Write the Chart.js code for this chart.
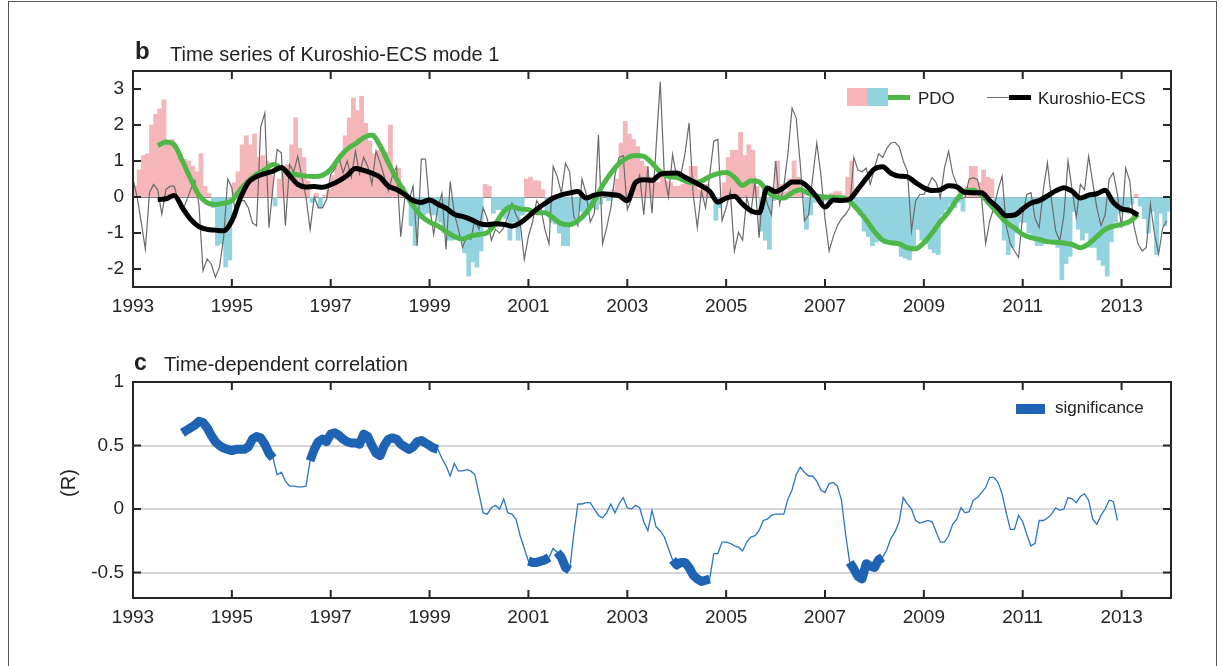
<!DOCTYPE html>
<html>
<head>
<meta charset="utf-8">
<script src="https://cdn.jsdelivr.net/npm/chart.js@4.4.1/dist/chart.umd.min.js"></script>
<style>
  body { margin: 0; background: #fff; font-family: "Liberation Sans", Arial, sans-serif; color: #222; }
  #page { position: relative; width: 1223px; height: 666px; overflow: hidden; }
  .frame { position: absolute; left: 8px; top: 1px; width: 1207px; height: 720px; border: 1px solid #555; }
  .box { position: absolute; left: 0; width: 1223px; }
  .txt { position: absolute; white-space: nowrap; line-height: 1; z-index: 2; }
  .sw { position: absolute; z-index: 2; }
</style>
</head>
<body>
<div id="page">
  <div class="frame"></div>
  <div class="box" style="top:0;height:320px"><canvas id="topChart"></canvas></div>
  <div class="box" style="top:320px;height:346px"><canvas id="corrChart"></canvas></div>

  <!-- titres -->
  <div class="txt" style="left:135px;top:39px;font-size:24px;font-weight:bold">b</div>
  <div class="txt" style="left:170px;top:43.5px;font-size:20px">Time series of Kuroshio-ECS mode 1</div>
  <div class="txt" style="left:134px;top:351px;font-size:23px;font-weight:bold">c</div>
  <div class="txt" style="left:164px;top:354px;font-size:20px">Time-dependent correlation</div>
  <div class="txt" style="left:53px;top:473px;font-size:20px;width:30px;text-align:center;transform:rotate(-90deg)">(R)</div>

  <!-- légende du haut -->
  <div class="sw" style="left:847px;top:88px;width:20px;height:18px;background:#f5b6ba"></div>
  <div class="sw" style="left:867px;top:88px;width:21px;height:18px;background:#93d3df"></div>
  <div class="sw" style="left:888px;top:95px;width:22px;height:5px;background:#4db848"></div>
  <div class="txt" style="left:918px;top:89.5px;font-size:17px">PDO</div>
  <div class="sw" style="left:987px;top:97px;width:23px;height:1px;background:#707070"></div>
  <div class="sw" style="left:1009px;top:95px;width:22px;height:5px;background:#000"></div>
  <div class="txt" style="left:1038px;top:89.5px;font-size:17px">Kuroshio-ECS</div>

  <!-- légende du bas -->
  <div class="sw" style="left:1016px;top:404px;width:29px;height:10px;background:#1f64b4"></div>
  <div class="txt" style="left:1055px;top:399px;font-size:17px">significance</div>
</div>

<script>
// Données (mensuelles, à partir de janvier 1993)
const FIRST_YEAR = 1993;

// Indice PDO mensuel (barres)
const pdo = [
  0.3, 0.75, 1.15, 1.2, 2.0, 2.3, 2.45, 2.7, 1.5, 1.6, 1.3, 1.2,          // 1993
  1.05, 1.0, 0.85, 0.7, 1.2, 0.3, 0.1, -0.3, -1.35, -1.3, -1.95, -1.75,   // 1994
  0.4, 0.7, 1.45, 1.7, 1.45, 1.75, 1.1, 1.15, 1.0, 0.6, -0.25, 0.5,       // 1995
  0.85, 0.9, 1.45, 2.2, 1.35, 1.1, 0.45, -0.15, 0.1, -0.3, 0.05, 0.2,     // 1996
  0.6, 0.9, 1.2, 1.7, 2.2, 2.75, 2.4, 2.8, 2.05, 1.55, 1.2, 1.3,          // 1997
  1.2, 1.25, 2.0, 0.7, 0.8, 0.3, 0.05, -0.8, -1.35, -0.6, -0.5, -0.45,    // 1998
  -0.5, -0.5, -0.7, -1.0, -1.2, -1.2, -1.15, -1.2, -1.55, -2.2, -1.8, -1.95, // 1999
  -1.5, 0.35, 0.3, -0.45, -0.35, -0.35, -0.6, -1.2, -0.7, -1.2, -0.5, 0.5,  // 2000
  0.55, 0.45, 0.45, 0.2, -0.45, -0.7, -0.75, -1.0, -1.35, -1.35, -0.8, -0.6, // 2001
  -0.4, -0.5, -0.35, -0.3, -0.35, -0.2, 0.1, -0.1, 0.2, 0.5, 1.5, 2.1,    // 2002
  1.75, 1.6, 1.4, 1.0, 0.85, 0.55, 0.55, 0.4, 0.55, 0.45, 0.4, 0.3,       // 2003
  0.3, 0.35, 0.4, 0.85, 0.85, 0.2, 0.25, 0.35, 0.1, -0.65, -0.3, 0.4,     // 2004
  1.1, 1.3, 1.3, 1.8, 1.15, 1.45, 1.3, 0.3, -0.95, -1.2, -1.45, -0.1,     // 2005
  1.0, 0.35, 0.15, 0.5, 1.0, 0.55, 0.15, -0.9, -0.5, -0.15, -0.15, -0.1,  // 2006
  -0.1, 0.1, 0.15, 0.15, 0.05, 0.55, 1.0, -0.35, -0.5, -0.95, -1.1, -1.35, // 2007
  -1.25, -1.2, -1.3, -1.3, -1.28, -1.3, -1.65, -1.7, -1.75, -1.4, -0.9, -1.2, // 2008
  -1.3, -1.45, -1.55, -1.6, -0.5, -0.35, -0.2, -0.3, -0.15, -0.4, 0.3, 0.85, // 2009
  0.85, 0.4, 0.75, 0.55, 0.5, -0.2, -0.35, -1.2, -1.6, -1.4, -1.0, -0.7,  // 2010
  -0.7, -1.0, -1.15, -1.35, -1.35, -1.3, -1.25, -1.3, -1.4, -2.3, -1.85, -1.65, // 2011
  -0.4, -0.9, -1.2, -1.0, -1.4, -1.4, -1.75, -1.9, -2.2, -1.25, -0.7, -0.45, // 2012
  -0.35, -0.45, -0.2, 0.08, -0.25, -0.6, -1.0, -0.4, -1.6, -0.45, -0.8, -0.4 // 2013
];

// Mode 1 Kuroshio-ECS mensuel (ligne fine grise)
const kuroshio = [
  0.5, 0.0, -0.7, -1.45, 0.12, 0.35, 0.2, -0.48, 0.21, 0.3, 0.3, -0.1,    // 1993
  -0.4, -0.1, 0.2, 0.45, -0.2, -2.05, -1.72, -1.86, -2.23, -1.95, -1.13, 0.5, // 1994
  0.26, -0.55, -0.1, -0.1, -0.3, -0.72, -0.8, 1.95, 2.33, -0.85, 0.3, 1.32, // 1995
  1.23, -0.8, 0.9, 0.7, 1.13, 0.55, 0.0, -0.9, 0.0, -0.3, -0.3, -0.07,    // 1996
  0.63, 0.77, 1.1, 0.67, 1.0, 0.55, 1.27, 0.65, 1.1, 0.85, 0.35, 1.27,    // 1997
  0.95, 0.57, 0.16, 0.6, 0.85, -1.1, 0.0, -0.1, 0.3, -1.35, 1.05, 1.05,   // 1998
  -0.26, -1.04, -0.3, 0.1, -1.46, 0.43, -0.45, -0.9, -1.4, -1.1, -1.18, -0.63, // 1999
  -0.9, -0.3, -0.6, -1.2, -0.9, -1.0, -0.85, -0.55, -0.17, -0.5, -0.72, -1.74, // 2000
  -1.09, -0.7, -0.1, -0.3, -0.9, -1.3, 0.85, 0.57, 0.1, 0.94, 0.7, -0.54, // 2001
  -0.8, 0.5, 0.1, -0.7, -0.45, 1.73, -1.3, -0.85, -0.3, 0.6, 1.1, 1.15,   // 2002
  -0.35, -0.07, 0.3, 0.6, -0.49, 0.85, -0.45, 1.4, 3.2, 0.6, 0.0, 1.18,   // 2003
  0.53, 0.63, 1.2, 2.06, 0.07, -0.85, 0.17, -0.3, 0.6, 1.55, 1.6, -0.66,  // 2004
  -0.3, 0.17, -1.5, -0.98, -1.2, -0.02, -0.45, 0.44, -1.13, 0.3, -0.2, -0.5, // 2005
  1.0, -0.2, 0.3, 1.2, 2.47, 2.2, 0.9, -0.66, -0.5, 0.54, 1.5, 0.63,      // 2006
  -0.6, -1.5, -1.1, -0.8, -0.6, -0.48, -0.3, 1.1, 0.75, 0.7, 0.8, 0.35,   // 2007
  0.8, 1.2, 1.1, 1.35, 1.5, 1.52, 1.4, 1.0, 0.72, -0.95, -0.11, 0.07,     // 2008
  0.07, 0.3, 0.54, 0.4, -0.02, 0.8, 1.27, 0.65, 0.35, -0.05, 0.0, 0.5,    // 2009
  0.53, 0.49, 0.0, -1.3, -0.66, -0.3, 0.2, 0.58, -0.8, -1.3, -1.5, -1.68, // 2010
  -0.5, 0.07, 0.12, -0.6, -0.85, 0.2, 0.95, -0.1, -0.94, -1.22, -0.5, 1.0, // 2011
  0.2, -0.57, 0.35, 0.2, 1.13, 0.4, -0.3, -0.8, -0.5, 0.5, 0.67, 0.07,    // 2012
  -0.85, 0.8, 0.44, -0.8, -1.3, -1.5, -1.4, -0.2, -1.03, -1.58, -0.85, -0.66 // 2013
];

// Courbes lissées : une valeur tous les deux mois à partir de juillet 1993
const SMOOTH_START = 1993.5;
const pdoSmooth = [
  1.43, 1.53, 1.45,
  1.0, 0.5, 0.05, -0.16, -0.21, -0.17,
  -0.1, 0.2, 0.44, 0.63, 0.76, 0.9,
  0.8, 0.66, 0.62, 0.58, 0.57, 0.6,
  0.77, 1.08, 1.33, 1.48, 1.65, 1.72,
  1.42, 0.95, 0.5, 0.13, -0.24, -0.53,
  -0.7, -0.8, -0.96, -1.1, -1.17, -1.08,
  -1.04, -0.99, -0.75, -0.4, -0.27, -0.33,
  -0.35, -0.44, -0.44, -0.58, -0.74, -0.77,
  -0.66, -0.44, -0.1, 0.32, 0.66, 0.93,
  1.09, 1.15, 1.13, 0.94, 0.7, 0.57,
  0.55, 0.45, 0.39, 0.44, 0.57, 0.65,
  0.68, 0.55, 0.32, 0.45, 0.42, 0.15,
  0.0, -0.03, 0.12, 0.2, 0.1, 0.02,
  0.0, -0.01, -0.02, -0.12, -0.36, -0.64,
  -0.96, -1.2, -1.27, -1.3, -1.41, -1.44,
  -1.27, -1.0, -0.68, -0.42, -0.07, 0.16,
  0.19, 0.05, -0.2, -0.46, -0.7, -0.86,
  -1.04, -1.13, -1.18, -1.24, -1.26, -1.28,
  -1.32, -1.41, -1.3, -1.1, -0.9, -0.81,
  -0.76, -0.68, -0.48
];
const kuroSmooth = [
  -0.07, -0.05, 0.04,
  -0.3, -0.62, -0.82, -0.9, -0.92, -0.94,
  -0.66, -0.05, 0.4, 0.57, 0.65, 0.72,
  0.82, 0.6, 0.35, 0.28, 0.29, 0.27,
  0.34, 0.45, 0.6, 0.79, 0.74, 0.66,
  0.55, 0.3, 0.21, 0.07, -0.1, -0.15,
  -0.08, -0.2, -0.31, -0.48, -0.54, -0.62,
  -0.73, -0.77, -0.74, -0.76, -0.81, -0.72,
  -0.54, -0.34, -0.18, -0.03, 0.06, 0.11,
  0.15, -0.03, 0.05, 0.09, 0.07, 0.04,
  -0.1, 0.4, 0.48, 0.46, 0.63, 0.66,
  0.67, 0.55, 0.43, 0.31, 0.16, -0.14,
  -0.03, 0.02, -0.2, -0.38, -0.44, 0.25,
  0.15, 0.26, 0.42, 0.42, 0.26, 0.0,
  -0.28, -0.08, -0.1, -0.06, 0.22, 0.51,
  0.78, 0.84, 0.66, 0.58, 0.56, 0.4,
  0.26, 0.18, 0.2, 0.31, 0.28, 0.13,
  0.12, 0.12, -0.1, -0.3, -0.52, -0.5,
  -0.33, -0.17, -0.1, 0.03, 0.17, 0.26,
  0.16, -0.03, 0.05, 0.09, 0.19, -0.15,
  -0.33, -0.37, -0.5
];

// Corrélation glissante (R), mensuelle à partir de janvier 1994
const CORR_START = 1994;
const corrR = [
  0.6, 0.62, 0.64, 0.66, 0.69, 0.68, 0.64, 0.58, 0.53, 0.5, 0.48, 0.47,
  0.46, 0.47, 0.47, 0.47, 0.49, 0.55, 0.57, 0.56, 0.51, 0.44, 0.4, 0.27,
  0.29, 0.22, 0.18, 0.18, 0.175, 0.175, 0.18, 0.38, 0.47, 0.53, 0.55, 0.53,
  0.59, 0.6, 0.58, 0.55, 0.53, 0.52, 0.52, 0.51, 0.59, 0.57, 0.5, 0.44,
  0.42, 0.5, 0.55, 0.56, 0.55, 0.51, 0.49, 0.47, 0.49, 0.53, 0.54, 0.52,
  0.5, 0.48, 0.47, 0.4, 0.34, 0.26, 0.36, 0.3, 0.3, 0.31, 0.3, 0.27,
  0.12, -0.03, -0.04, 0.01, 0.03, 0.0, 0.08, -0.03, -0.04, -0.08, -0.21, -0.31,
  -0.41, -0.42, -0.42, -0.41, -0.4, -0.38, -0.31, -0.34, -0.38, -0.46, -0.48, -0.2,
  0.04, 0.04, 0.05, 0.05, 0.0, -0.05, -0.07, -0.03, 0.04, -0.03, 0.04, 0.09,
  0.01, 0.0, 0.03, 0.01, -0.1, -0.17, -0.01, -0.14, -0.17, -0.22, -0.31, -0.4,
  -0.44, -0.42, -0.42, -0.46, -0.52, -0.55, -0.57, -0.56, -0.55, -0.35, -0.35, -0.26,
  -0.26, -0.27, -0.29, -0.3, -0.33, -0.26, -0.22, -0.21, -0.17, -0.09, -0.08, -0.05,
  -0.04, -0.04, -0.04, 0.08, 0.15, 0.27, 0.33, 0.29, 0.26, 0.26, 0.22, 0.15,
  0.13, 0.2, 0.21, 0.18, 0.07, -0.2, -0.42, -0.47, -0.53, -0.55, -0.43, -0.45,
  -0.46, -0.4, -0.38, -0.32, -0.23, -0.18, -0.1, 0.09, 0.04, 0.0, -0.09, -0.11,
  -0.1, -0.09, -0.1, -0.18, -0.26, -0.26, -0.21, -0.12, -0.08, 0.01, -0.03, -0.02,
  0.07, 0.09, 0.13, 0.17, 0.25, 0.25, 0.21, 0.12, -0.03, -0.16, -0.16, -0.05,
  -0.1, -0.2, -0.29, -0.27, -0.09, -0.09, -0.07, -0.04, 0.01, -0.01, 0.0, 0.09,
  0.08, 0.05, 0.1, 0.12, 0.07, -0.08, -0.12, -0.05, 0.0, 0.07, 0.06, -0.09
];

// Périodes significatives (début, fin) en années décimales
const sigPeriods = [
  [1993.9, 1995.88], [1996.55, 1999.2], [2000.95, 2001.42],
  [2001.55, 2001.86], [2003.9, 2004.72], [2007.46, 2008.2]
];

// Graduations
const xTicks = [1993, 1995, 1997, 1999, 2001, 2003, 2005, 2007, 2009, 2011, 2013];
const yTicksTop = [-2, -1, 0, 1, 2, 3];
const yTicksCorr = [-0.5, 0, 0.5, 1];

const PINK = '#f5b6ba';
const CYAN = '#93d3df';

Chart.defaults.font.family = '"Liberation Sans", Arial, sans-serif';
Chart.defaults.font.size = 19;
Chart.defaults.color = '#262626';

// Cadre + graduations tournées vers l'intérieur (style MATLAB)
const axisBox = {
  id: 'axisBox',
  afterDatasetsDraw(chart) {
    const { ctx, chartArea: a, scales: { x, y } } = chart;
    ctx.save();
    ctx.strokeStyle = '#262626';
    ctx.lineWidth = 2;
    ctx.beginPath();
    x.ticks.forEach(t => {
      const px = x.getPixelForValue(t.value);
      ctx.moveTo(px, a.bottom); ctx.lineTo(px, a.bottom - 8);
      ctx.moveTo(px, a.top); ctx.lineTo(px, a.top + 8);
    });
    y.ticks.forEach(t => {
      const py = y.getPixelForValue(t.value);
      ctx.moveTo(a.left, py); ctx.lineTo(a.left + 8, py);
      ctx.moveTo(a.right, py); ctx.lineTo(a.right - 8, py);
    });
    ctx.stroke();
    ctx.strokeRect(a.left, a.top, a.right - a.left, a.bottom - a.top);
    ctx.restore();
  }
};

function xScale(height) {
  return {
    type: 'linear', min: 1993, max: 2014, offset: false,
    grid: { display: false, drawTicks: false },
    border: { display: false },
    ticks: { autoSkip: false, maxRotation: 0, padding: 8, callback: v => String(v) },
    afterBuildTicks: s => { s.ticks = xTicks.map(v => ({ value: v })); },
    afterFit: s => { s.height = height; }
  };
}

// --- Graphique b : séries temporelles ---
new Chart(document.getElementById('topChart'), {
  type: 'bar',
  data: {
    datasets: [
      {
        type: 'line', label: 'Kuroshio-ECS lissé', order: 1,
        data: kuroSmooth.map((v, i) => ({ x: SMOOTH_START + i / 6, y: v })),
        borderColor: '#000', borderWidth: 5, pointRadius: 0,
        cubicInterpolationMode: 'monotone', borderJoinStyle: 'round'
      },
      {
        type: 'line', label: 'PDO lissé', order: 2,
        data: pdoSmooth.map((v, i) => ({ x: SMOOTH_START + i / 6, y: v })),
        borderColor: '#4db848', borderWidth: 5, pointRadius: 0,
        cubicInterpolationMode: 'monotone', borderJoinStyle: 'round'
      },
      {
        type: 'line', label: 'Kuroshio-ECS', order: 3,
        data: kuroshio.map((v, i) => ({ x: FIRST_YEAR + i / 12, y: v })),
        borderColor: '#6a6a6a', borderWidth: 1.2, pointRadius: 0, tension: 0
      },
      {
        type: 'bar', label: 'PDO', order: 4,
        data: pdo.map((v, i) => ({ x: FIRST_YEAR + (i + 0.5) / 12, y: v })),
        backgroundColor: pdo.map(v => (v >= 0 ? PINK : CYAN)),
        borderWidth: 0, barPercentage: 1, categoryPercentage: 1
      }
    ]
  },
  options: {
    responsive: true, maintainAspectRatio: false, animation: false, events: [],
    layout: { padding: { top: 71, right: 52, bottom: 0, left: 0 } },
    plugins: { legend: { display: false }, tooltip: { enabled: false } },
    scales: {
      x: xScale(33),
      y: {
        min: -2.5, max: 3.5,
        grid: { drawTicks: false, lineWidth: 1, color: c => (c.tick && c.tick.value === 0 ? '#808080' : 'rgba(0,0,0,0)') },
        border: { display: false },
        ticks: { padding: 9, callback: v => String(v) },
        afterBuildTicks: s => { s.ticks = yTicksTop.map(v => ({ value: v })); },
        afterFit: s => { s.width = 133; }
      }
    }
  },
  plugins: [axisBox]
});

// --- Graphique c : corrélation ---
const corrX = i => CORR_START + i / 12;
const isSig = t => sigPeriods.some(([a, b]) => t >= a && t <= b);

new Chart(document.getElementById('corrChart'), {
  type: 'line',
  data: {
    datasets: [
      {
        label: 'significance', order: 1,
        data: corrR.map((v, i) => ({ x: corrX(i), y: isSig(corrX(i)) ? v : null })),
        borderColor: '#1f64b4', borderWidth: 9, pointRadius: 0, spanGaps: false,
        borderJoinStyle: 'round', tension: 0
      },
      {
        label: 'R', order: 2,
        data: corrR.map((v, i) => ({ x: corrX(i), y: v })),
        borderColor: '#2a75c6', borderWidth: 1.3, pointRadius: 0, tension: 0
      }
    ]
  },
  options: {
    responsive: true, maintainAspectRatio: false, animation: false, events: [],
    layout: { padding: { top: 62, right: 52, bottom: 0, left: 0 } },
    plugins: { legend: { display: false }, tooltip: { enabled: false } },
    scales: {
      x: xScale(68),
      y: {
        min: -0.7, max: 1,
        grid: { drawTicks: false, lineWidth: 2, color: c => (c.tick && c.tick.value !== 1 ? '#d6d6d6' : 'rgba(0,0,0,0)') },
        border: { display: false },
        ticks: { padding: 9, callback: v => String(v) },
        afterBuildTicks: s => { s.ticks = yTicksCorr.map(v => ({ value: v })); },
        afterFit: s => { s.width = 133; }
      }
    }
  },
  plugins: [axisBox]
});
</script>
</body>
</html>
